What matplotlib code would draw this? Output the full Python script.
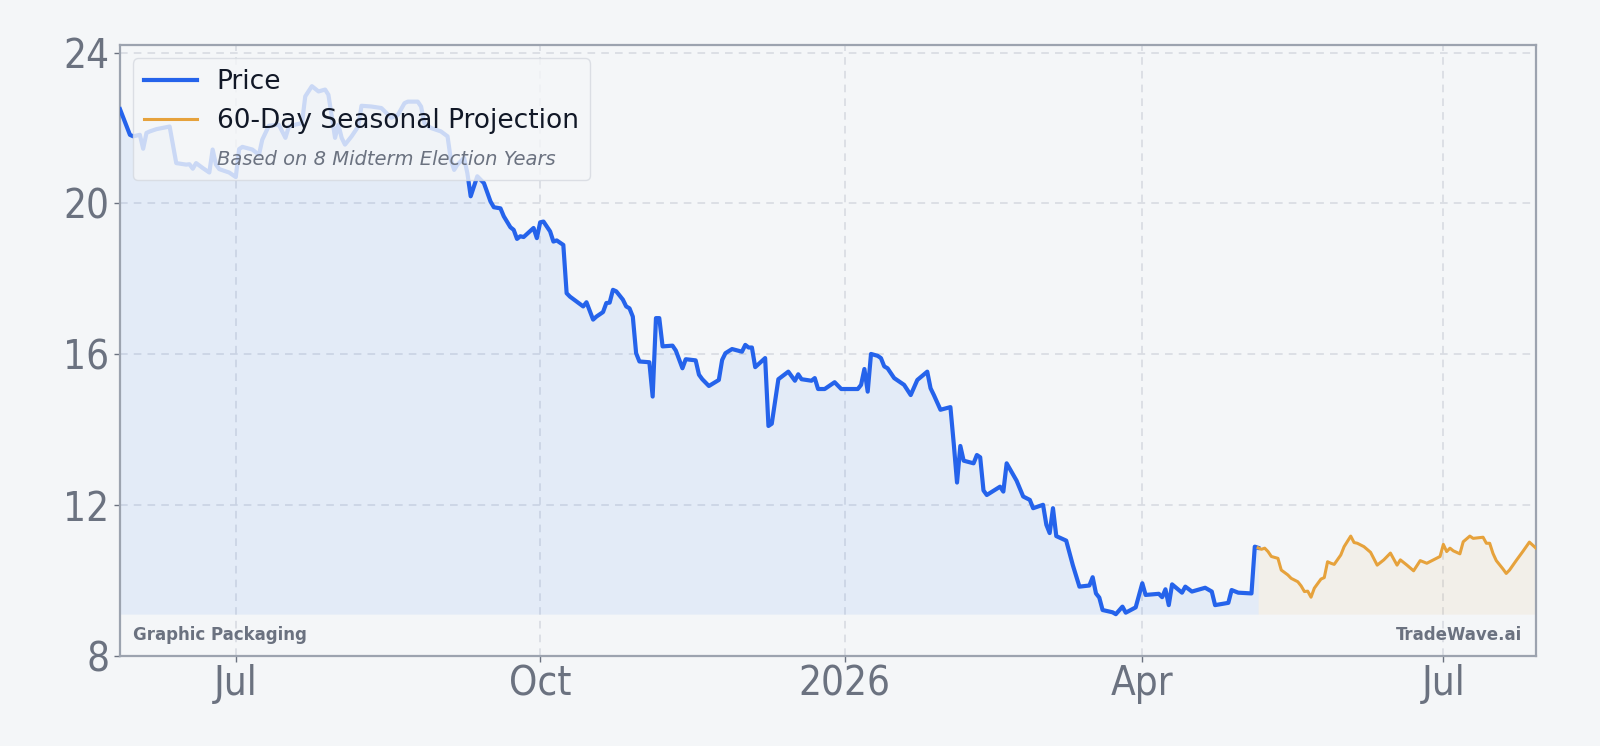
import matplotlib
matplotlib.use("Agg")
from matplotlib import pyplot as plt
from matplotlib.lines import Line2D
import matplotlib.dates as mdates
import matplotlib.ticker as mticker
import pandas as pd

# price history
price_dates = [
    "2025-05-27", "2025-05-30", "2025-05-31", "2025-06-02", "2025-06-03", "2025-06-04", "2025-06-05",
    "2025-06-07", "2025-06-11", "2025-06-13", "2025-06-16", "2025-06-17", "2025-06-18", "2025-06-19",
    "2025-06-21", "2025-06-23", "2025-06-24", "2025-06-25", "2025-06-26", "2025-06-29",
    "2025-07-01", "2025-07-02", "2025-07-03", "2025-07-06", "2025-07-08", "2025-07-09", "2025-07-11",
    "2025-07-14", "2025-07-16", "2025-07-17", "2025-07-19", "2025-07-21", "2025-07-22", "2025-07-24",
    "2025-07-26", "2025-07-28", "2025-07-29", "2025-07-31",
    "2025-08-01", "2025-08-02", "2025-08-03", "2025-08-05", "2025-08-07", "2025-08-08", "2025-08-11",
    "2025-08-14", "2025-08-17", "2025-08-19", "2025-08-21", "2025-08-22", "2025-08-25", "2025-08-26",
    "2025-08-27", "2025-08-29",
    "2025-09-01", "2025-09-03", "2025-09-04", "2025-09-05", "2025-09-06", "2025-09-08", "2025-09-09",
    "2025-09-10", "2025-09-12", "2025-09-14", "2025-09-16", "2025-09-17", "2025-09-19", "2025-09-20",
    "2025-09-22", "2025-09-23", "2025-09-24", "2025-09-25", "2025-09-26", "2025-09-29", "2025-09-30",
    "2025-10-01", "2025-10-02", "2025-10-04", "2025-10-05", "2025-10-06", "2025-10-08", "2025-10-09",
    "2025-10-10", "2025-10-12", "2025-10-14", "2025-10-15", "2025-10-17", "2025-10-18", "2025-10-20",
    "2025-10-21", "2025-10-22", "2025-10-23", "2025-10-24", "2025-10-26", "2025-10-27", "2025-10-28",
    "2025-10-29", "2025-10-30", "2025-10-31",
    "2025-11-03", "2025-11-04", "2025-11-05", "2025-11-06", "2025-11-07", "2025-11-10", "2025-11-11",
    "2025-11-13", "2025-11-14", "2025-11-17", "2025-11-18", "2025-11-19", "2025-11-21", "2025-11-24",
    "2025-11-25", "2025-11-26", "2025-11-28",
    "2025-12-01", "2025-12-02", "2025-12-03", "2025-12-04", "2025-12-05", "2025-12-08", "2025-12-09",
    "2025-12-10", "2025-12-12", "2025-12-15", "2025-12-17", "2025-12-18", "2025-12-19", "2025-12-22",
    "2025-12-23", "2025-12-24", "2025-12-26", "2025-12-29", "2025-12-31",
    "2026-01-05", "2026-01-06", "2026-01-07", "2026-01-08", "2026-01-09", "2026-01-11", "2026-01-12",
    "2026-01-13", "2026-01-14", "2026-01-16", "2026-01-19", "2026-01-21", "2026-01-23", "2026-01-26",
    "2026-01-27", "2026-01-28", "2026-01-30",
    "2026-02-02", "2026-02-03", "2026-02-04", "2026-02-05", "2026-02-06", "2026-02-09", "2026-02-10",
    "2026-02-11", "2026-02-12", "2026-02-13", "2026-02-17", "2026-02-18", "2026-02-19", "2026-02-22",
    "2026-02-24", "2026-02-26", "2026-02-27",
    "2026-03-02", "2026-03-03", "2026-03-04", "2026-03-05", "2026-03-06", "2026-03-09", "2026-03-11",
    "2026-03-13", "2026-03-16", "2026-03-17", "2026-03-18", "2026-03-19", "2026-03-20", "2026-03-23",
    "2026-03-24", "2026-03-26", "2026-03-27", "2026-03-30",
    "2026-04-01", "2026-04-02", "2026-04-06", "2026-04-07", "2026-04-08", "2026-04-09", "2026-04-10",
    "2026-04-13", "2026-04-14", "2026-04-16", "2026-04-20", "2026-04-22", "2026-04-23", "2026-04-27",
    "2026-04-28", "2026-04-30",
    "2026-05-04", "2026-05-05", "2026-05-06",
]
price_values = [
    22.50, 21.82, 21.78, 21.82, 21.45, 21.87, 21.91,
    21.97, 22.04, 21.07, 21.03, 21.04, 20.92, 21.07,
    20.94, 20.82, 21.43, 21.03, 20.91, 20.82,
    20.70, 21.44, 21.50, 21.43, 21.29, 21.69, 22.06,
    22.09, 21.74, 22.03, 22.09, 22.13, 22.84, 23.11,
    22.97, 23.02, 22.88, 21.74,
    22.09, 21.74, 21.56, 21.78, 22.04, 22.59, 22.57,
    22.53, 22.27, 22.35, 22.66, 22.70, 22.70, 22.57,
    22.13, 22.00,
    21.91, 21.78, 21.16, 20.89, 21.03, 21.21, 20.80,
    20.19, 20.72, 20.54, 20.05, 19.90, 19.87, 19.66,
    19.37, 19.30, 19.06, 19.13, 19.11, 19.35, 19.08,
    19.50, 19.52, 19.26, 18.99, 19.02, 18.90, 17.62,
    17.53, 17.40, 17.27, 17.38, 16.92, 17.00, 17.12,
    17.36, 17.37, 17.71, 17.67, 17.45, 17.27, 17.22,
    17.00, 16.03, 15.81,
    15.79, 14.88, 16.96, 16.96, 16.21, 16.23, 16.10,
    15.63, 15.87, 15.84, 15.46, 15.34, 15.16, 15.32,
    15.85, 16.03, 16.14,
    16.07, 16.25, 16.18, 16.18, 15.66, 15.90, 14.10,
    14.16, 15.34, 15.54, 15.30, 15.47, 15.34, 15.30,
    15.37, 15.08, 15.08, 15.26, 15.08,
    15.08, 15.19, 15.61, 15.01, 16.01, 15.96, 15.90,
    15.68, 15.63, 15.37, 15.19, 14.92, 15.32, 15.54,
    15.10, 14.92, 14.53,
    14.60, 13.64, 12.60, 13.57, 13.18, 13.11, 13.33,
    13.27, 12.39, 12.27, 12.49, 12.36, 13.11, 12.65,
    12.23, 12.14, 11.92,
    12.01, 11.48, 11.26, 11.92, 11.18, 11.06, 10.41,
    9.84, 9.87, 10.09, 9.66, 9.55, 9.22, 9.16,
    9.11, 9.31, 9.15, 9.29,
    9.93, 9.62, 9.65, 9.56, 9.77, 9.35, 9.90,
    9.68, 9.84, 9.71, 9.81, 9.71, 9.35, 9.41,
    9.75, 9.68,
    9.66, 10.90, 10.87,
]

# 60-day seasonal projection
proj_dates = [
    "2026-05-06", "2026-05-07", "2026-05-08", "2026-05-09", "2026-05-10", "2026-05-12", "2026-05-13",
    "2026-05-15", "2026-05-16", "2026-05-18", "2026-05-19", "2026-05-20", "2026-05-21", "2026-05-22",
    "2026-05-23", "2026-05-25", "2026-05-26", "2026-05-27", "2026-05-28", "2026-05-29", "2026-05-31",
    "2026-06-01", "2026-06-03", "2026-06-04", "2026-06-05", "2026-06-07", "2026-06-09", "2026-06-11",
    "2026-06-13", "2026-06-15", "2026-06-17", "2026-06-18", "2026-06-20", "2026-06-22", "2026-06-24",
    "2026-06-26", "2026-06-28", "2026-06-30",
    "2026-07-01", "2026-07-02", "2026-07-03", "2026-07-04", "2026-07-06", "2026-07-07", "2026-07-09",
    "2026-07-10", "2026-07-13", "2026-07-14", "2026-07-15", "2026-07-16", "2026-07-17", "2026-07-19",
    "2026-07-20", "2026-07-21", "2026-07-23", "2026-07-25", "2026-07-27", "2026-07-29",
]
proj_values = [
    10.87, 10.83, 10.86, 10.77, 10.64, 10.59, 10.28,
    10.15, 10.06, 9.97, 9.86, 9.71, 9.72, 9.56,
    9.80, 10.04, 10.08, 10.50, 10.46, 10.43, 10.68,
    10.90, 11.18, 11.01, 10.99, 10.90, 10.75, 10.41,
    10.55, 10.73, 10.41, 10.55, 10.41, 10.26, 10.53,
    10.46, 10.55, 10.64,
    10.96, 10.77, 10.86, 10.79, 10.71, 11.03, 11.18,
    11.12, 11.15, 10.99, 10.99, 10.72, 10.53, 10.31,
    10.19, 10.28, 10.53, 10.77, 11.02, 10.86,
]

y_ticks = [8, 12, 16, 20, 24]

BG = "#f4f6f8"
BLUE = "#2563eb"
ORANGE = "#e6a23c"
GRAY = "#6b7280"

px = pd.to_datetime(price_dates)
pj = pd.to_datetime(proj_dates)
base = min(min(price_values), min(proj_values))

fig = plt.figure(figsize=(16, 7.46), dpi=100, facecolor=BG)
ax = fig.add_axes([0.075, 0.1206, 0.885, 0.819])
ax.set_facecolor(BG)

ax.fill_between(px, price_values, base, color="#3b82f6", alpha=0.09, linewidth=0)
ax.fill_between(pj, proj_values, base, color=ORANGE, alpha=0.08, linewidth=0)
ax.plot(px, price_values, color=BLUE, linewidth=3, label="Price", zorder=3)
ax.plot(pj, proj_values, color=ORANGE, linewidth=2.2, label="60-Day Seasonal Projection", zorder=3)

ax.set_xlim(px[0], pj[-1])
ax.set_ylim(8, 24.2)
ax.set_yticks(y_ticks)

ax.xaxis.set_major_locator(mdates.MonthLocator(bymonth=[1, 4, 7, 10]))
ax.xaxis.set_major_formatter(mticker.FuncFormatter(
    lambda v, pos: mdates.num2date(v).strftime("%Y" if mdates.num2date(v).month == 1 else "%b")))

ax.grid(True, color="#d5d9e0", linestyle=(0, (5, 4)), linewidth=1.1)
ax.set_axisbelow(True)
for s in ax.spines.values():
    s.set_color("#9ca3af")
    s.set_linewidth(1.6)
ax.tick_params(axis="both", colors=GRAY, labelsize=29, length=4, width=1)
ax.tick_params(axis="x", pad=2)
for lab in ax.get_xticklabels() + ax.get_yticklabels():
    lab.set_fontstretch("condensed")

handles = [
    Line2D([], [], color=BLUE, linewidth=3),
    Line2D([], [], color=ORANGE, linewidth=2.2),
    Line2D([], [], color="none"),
]
labels = ["Price", "60-Day Seasonal Projection", "Based on 8 Midterm Election Years"]
leg = ax.legend(handles, labels, loc="upper left", fontsize=19, frameon=True, fancybox=True,
                framealpha=0.8, facecolor=BG, edgecolor="#d5d9e0", borderpad=0.42,
                labelspacing=0.48, handlelength=2.0, handletextpad=0.75,
                bbox_to_anchor=(0.0, 1.0))
for t in leg.get_texts():
    t.set_color("#111827")
note = leg.get_texts()[2]
note.set_fontstyle("italic")
note.set_color(GRAY)
note.set_fontsize(14)

ax.text(0.009, 0.02, "Graphic Packaging", transform=ax.transAxes, fontsize=13.3,
        fontweight="bold", fontstretch="condensed", color=GRAY, ha="left", va="bottom")
ax.text(0.99, 0.02, "TradeWave.ai", transform=ax.transAxes, fontsize=13.3,
        fontweight="bold", fontstretch="condensed", color=GRAY, ha="right", va="bottom")

fig.savefig("out.png", dpi=100, facecolor=BG)
